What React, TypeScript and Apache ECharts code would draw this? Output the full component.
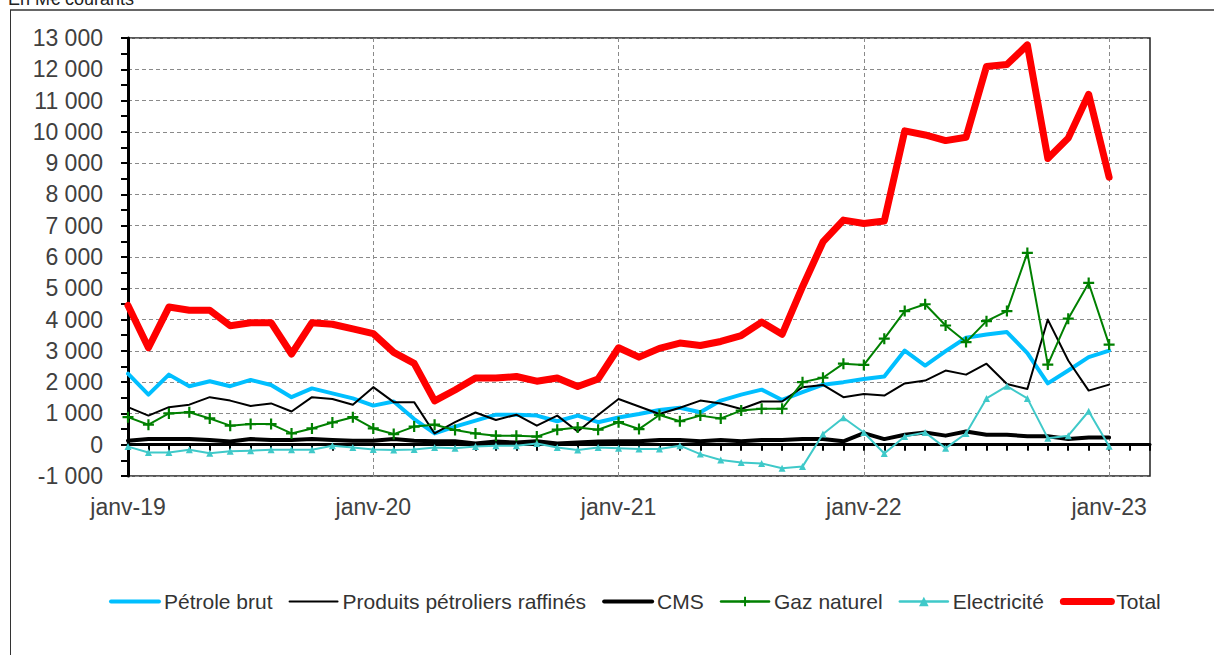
import React, { useEffect, useRef } from "react";
import * as echarts from "echarts";

const MONTHS = ["janv", "févr", "mars", "avr", "mai", "juin", "juil", "août", "sept", "oct", "nov", "déc"];
const YEARS = ["19", "20", "21", "22", "23"];
const categories: string[] = [];
YEARS.forEach((y) => MONTHS.forEach((m) => categories.push(`${m}-${y}`)));
const axisCategories = categories.slice(0, 51);

const petroleBrut = [2270, 1600, 2240, 1870, 2030, 1870, 2070, 1910, 1520, 1800, 1640, 1480, 1250,
  1380, 820, 360, 580, 770, 960, 960, 930, 750, 930, 720, 870,
  980, 1110, 1180, 1040, 1410, 1600, 1760, 1430, 1680, 1920, 2000, 2100,
  2180, 3010, 2530, 2990, 3420, 3520, 3600, 2930, 1960, 2370, 2800, 3010];
const produitsRaffines = [1200, 930, 1200, 1280, 1520, 1410, 1240, 1320, 1060, 1520, 1460, 1280, 1840,
  1360, 1360, 360, 720, 1030, 790, 960, 610, 930, 420, 950, 1460,
  1220, 980, 1180, 1410, 1320, 1140, 1380, 1380, 1840, 1910, 1520, 1620,
  1570, 1960, 2050, 2370, 2240, 2590, 1940, 1780, 4000, 2690, 1730, 1920];
const cms = [130, 180, 180, 180, 150, 100, 180, 150, 150, 180, 150, 130, 130,
  180, 130, 110, 110, 40, 100, 70, 110, 40, 70, 100, 110,
  110, 150, 150, 110, 150, 110, 150, 150, 180, 180, 110, 370,
  180, 320, 390, 290, 420, 320, 320, 270, 270, 180, 230, 230];
const gazNaturel = [880, 640, 1000, 1040, 840, 610, 660, 660, 360, 520, 710, 880, 520,
  340, 580, 640, 470, 360, 290, 290, 260, 480, 550, 480, 720,
  500, 950, 750, 930, 840, 1090, 1150, 1150, 2000, 2140, 2590, 2550,
  3390, 4270, 4490, 3810, 3280, 3950, 4270, 6130, 2560, 4030, 5170, 3200];
const electricite = [-60, -250, -250, -160, -270, -210, -190, -160, -160, -160, -30, -90, -150,
  -170, -150, -90, -110, -60, -30, -30, 40, -90, -170, -90, -110,
  -140, -140, -30, -300, -490, -570, -600, -750, -700, 340, 860, 390,
  -280, 260, 390, -110, 360, 1480, 1870, 1480, 210, 290, 1070, -50];
const total = [4450, 3100, 4400, 4300, 4300, 3800, 3900, 3900, 2900, 3900, 3850, 3700, 3550,
  2950, 2600, 1400, 1750, 2130, 2130, 2180, 2030, 2130, 1860, 2100, 3100,
  2800, 3080, 3250, 3170, 3300, 3490, 3920, 3530, 5050, 6480, 7180, 7070,
  7150, 10030, 9900, 9720, 9830, 12090, 12150, 12780, 9150, 9800, 11200, 8550];

const FONT = '"Liberation Sans", Arial, sans-serif';
const PLUS = "path://M4,0H6V10H4ZM0,4H10V6H0Z";

const fmt = (v: number) => {
  const s = Math.abs(v).toString().replace(/\B(?=(\d{3})+(?!\d))/g, " ");
  return (v < 0 ? "-" : "") + s;
};

export default function App() {
  const ref = useRef<HTMLDivElement>(null);
  useEffect(() => {
    const chart = echarts.init(ref.current!, null, { renderer: "svg" });
    const line = (name: string, data: number[], color: string, width: number, extra: any = {}) => ({
      name,
      type: "line",
      data,
      symbol: "none",
      color,
      lineStyle: { color, width, join: "round", cap: "round" },
      itemStyle: { color },
      emphasis: { disabled: true },
      ...extra,
    });
    const hidden = { itemStyle: { opacity: 0 } };
    chart.setOption({
      animation: false,
      backgroundColor: "#fff",
      textStyle: { fontFamily: FONT },
      grid: {
        left: 128,
        top: 38,
        right: 64,
        bottom: 179,
        show: true,
        borderColor: "#222",
        borderWidth: 1.5,
        containLabel: false,
      },
      graphic: [
        { type: "line", shape: { x1: 10, y1: 10, x2: 1214, y2: 10 }, style: { stroke: "#666", lineWidth: 2 } },
        { type: "line", shape: { x1: 10.5, y1: 10, x2: 10.5, y2: 655 }, style: { stroke: "#333", lineWidth: 1 } },
        {
          type: "text",
          x: 8,
          y: 8,
          style: { text: "En M€ courants", font: `18px ${FONT}`, fill: "#222", verticalAlign: "bottom" },
        },
      ],
      legend: {
        left: 104,
        top: 586,
        itemWidth: 48,
        itemHeight: 12,
        itemGap: 16,
        textStyle: { fontSize: 21, color: "#333", fontFamily: FONT },
        data: [
          { name: "Pétrole brut", ...hidden, lineStyle: { width: 4 } },
          { name: "Produits pétroliers raffinés", ...hidden, lineStyle: { width: 2 } },
          { name: "CMS", ...hidden, lineStyle: { width: 4 } },
          { name: "Gaz naturel", lineStyle: { width: 2.5 } },
          { name: "Electricité", lineStyle: { width: 2.5 } },
          { name: "Total", ...hidden, lineStyle: { width: 7 } },
        ],
      },
      xAxis: {
        type: "category",
        data: axisCategories,
        boundaryGap: false,
        axisLine: { lineStyle: { color: "#000", width: 3 } },
        axisTick: { show: true, interval: 0, length: 6, lineStyle: { color: "#000", width: 2 } },
        axisLabel: {
          interval: (i: number) => i % 12 === 0,
          margin: 19,
          fontSize: 23,
          color: "#404040",
          fontFamily: FONT,
        },
        splitLine: {
          show: true,
          interval: (i: number) => i % 12 === 0 && i > 0,
          lineStyle: { color: "#8a8a8a", type: [4, 3], width: 1 },
        },
      },
      yAxis: {
        type: "value",
        min: -1000,
        max: 13000,
        interval: 1000,
        axisLine: { show: true, lineStyle: { color: "#000", width: 3 } },
        axisTick: { show: true, length: 7, lineStyle: { color: "#000", width: 2 } },
        minorTick: { show: true, splitNumber: 2, length: 7, lineStyle: { color: "#000", width: 2 } },
        axisLabel: { formatter: fmt, margin: 25, fontSize: 23, color: "#404040", fontFamily: FONT },
        splitLine: { show: true, lineStyle: { color: "#8a8a8a", type: [4, 3], width: 1 } },
      },
      series: [
        line("Pétrole brut", petroleBrut, "#00BFFF", 4),
        line("Produits pétroliers raffinés", produitsRaffines, "#000000", 2),
        line("CMS", cms, "#000000", 4),
        line("Gaz naturel", gazNaturel, "#008000", 2, { symbol: PLUS, symbolSize: 11, showSymbol: true }),
        line("Electricité", electricite, "#3FC9C9", 2, { symbol: "triangle", symbolSize: 7, showSymbol: true }),
        line("Total", total, "#FF0000", 7),
      ],
    });
    return () => chart.dispose();
  }, []);
  return <div ref={ref} style={{ position: "fixed", left: 0, top: 0, width: 1214, height: 655 }} />;
}
